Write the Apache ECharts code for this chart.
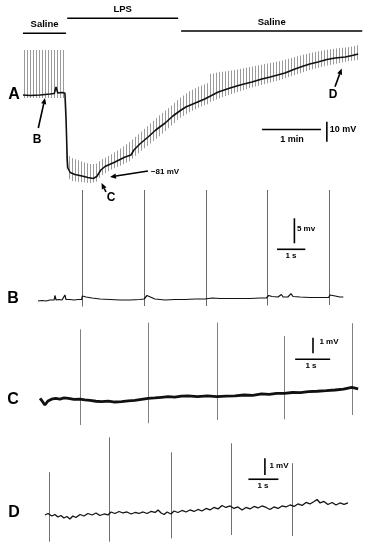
<!DOCTYPE html>
<html>
<head>
<meta charset="utf-8">
<title>Membrane potential recordings</title>
<script src="https://cdn.jsdelivr.net/npm/echarts@6/dist/echarts.min.js"></script>
<style>
  html, body { margin: 0; padding: 0; background: #fff; }
  #chart { width: 370px; height: 550px; }
</style>
</head>
<body>
<div id="chart"></div>
<script>
// ---------- A: slow recording (time in min, membrane potential in mV)
const aTime = [0, 0.12, 0.29, 0.46, 0.53, 0.56, 0.59, 0.66, 0.71, 0.73, 0.75, 0.76, 0.8, 0.88, 1.0, 1.1, 1.19, 1.25, 1.32, 1.39, 1.56, 1.73, 1.83, 1.88, 1.98, 2.12, 2.25, 2.41, 2.54, 2.68, 2.76, 2.92, 3.08, 3.31, 3.51, 3.68, 3.88, 4.05, 4.19, 4.44, 4.61, 4.73, 4.86, 5.0, 5.15, 5.29, 5.46, 5.58, 5.68];
const aVm = [-39.5, -39.75, -39.5, -39, -38.75, -35.5, -38.5, -38.25, -38.5, -52, -72, -76, -78.25, -79.25, -80, -80.75, -81.25, -80.25, -77, -75.25, -73, -70.5, -69.5, -67, -64, -60.5, -57, -53.5, -50, -47, -45.5, -43.5, -41.5, -38, -36, -34.5, -33, -31.5, -30.5, -28.5, -26.5, -25.25, -24, -23, -21.75, -21, -20.5, -19.75, -19];
// spike envelope (grey hatching)
const aEnvTime = [0, 0.72, 0.74, 0.76, 0.83, 0.97, 1.14, 1.24, 1.32, 1.48, 1.64, 1.81, 1.98, 2.15, 2.32, 2.49, 2.66, 2.83, 3.0, 3.14, 3.17, 3.34, 3.59, 3.85, 4.1, 4.36, 4.61, 4.86, 5.12, 5.37, 5.54, 5.68];
const aEnvTop = [-17, -17, -62, -69.5, -71, -72.5, -74, -74, -72, -69.5, -66.5, -63, -58.5, -54, -49.5, -45.5, -41, -37.5, -35, -33.5, -29, -28, -27, -25.5, -24, -22.5, -20.5, -18.5, -17, -16, -15.5, -14.5];
const aEnvBottom = [-41, -41, -76, -81, -82.5, -83, -83.5, -83, -80, -77, -75, -72.5, -68, -64, -60, -55.5, -51, -48, -45.5, -44, -43, -41, -38.5, -36, -34, -32, -29.5, -27, -25, -23.5, -22.5, -22];
// perfusion periods (min)
const periodNames = ['Saline', 'LPS', 'Saline'];
const periodStart = [0, 0.75, 2.68];
const periodEnd = [0.73, 2.63, 5.75];

// ---------- B (time in s, mV relative to baseline)
const bTime = [0, 0.14, 0.28, 0.42, 0.57, 0.6, 0.64, 0.74, 0.85, 0.95, 0.99, 1.13, 1.27, 1.41, 1.54, 1.57, 1.7, 1.91, 2.19, 2.54, 2.9, 3.25, 3.6, 3.75, 3.8, 3.85, 3.92, 4.13, 4.49, 4.84, 5.19, 5.55, 5.9, 5.97, 6.15, 6.43, 6.78, 7.14, 7.49, 7.85, 8.07, 8.15, 8.27, 8.48, 8.6, 8.66, 8.83, 8.94, 9.01, 9.26, 9.61, 9.97, 10.27, 10.32, 10.5, 10.67, 10.79];
const bVm = [-0.4, -0.3, -0.4, -0.2, -0.2, 0.7, -0.2, -0.1, -0.2, 0.8, -0.1, -0.1, -0.2, -0.1, -0.1, 0.6, 0.4, 0.2, 0, -0.1, -0.2, -0.2, -0.1, 0, 0.4, 0.7, 0.3, 0, -0.2, -0.1, -0.1, 0, 0, 0.4, 0.2, 0.1, 0.1, 0.1, 0.1, 0.2, 0.2, 0.7, 0.5, 0.4, 0.9, 0.4, 0.4, 1.06, 0.5, 0.4, 0.3, 0.3, 0.3, 0.8, 0.6, 0.4, 0.4];
const bSpikeTime = [1.54, 3.76, 5.93, 8.1, 10.28];
const bSpikePeak = [21.8, 21.8, 21.8, 21.8, 21.8];
const bSpikeTrough = [-1.5, -1.4, -1.4, -1.3, -1.2];

// ---------- C
const cTime = [0, 0.06, 0.14, 0.23, 0.33, 0.45, 0.57, 0.69, 0.81, 0.97, 1.14, 1.28, 1.43, 1.6, 1.76, 1.95, 2.14, 2.33, 2.52, 2.71, 2.9, 3.09, 3.28, 3.47, 3.66, 3.85, 4.04, 4.23, 4.5, 4.78, 5.05, 5.31, 5.57, 5.83, 6.08, 6.33, 6.55, 6.76, 6.98, 7.21, 7.44, 7.67, 7.92, 8.18, 8.43, 8.67, 8.91, 9.09];
const cVm = [0.11, -0.06, -0.32, -0.06, 0.05, 0.1, 0.06, 0.13, 0.11, 0.04, 0.06, 0.01, -0.03, -0.08, -0.11, -0.07, -0.13, -0.11, -0.05, -0.03, 0.04, 0.11, 0.13, 0.17, 0.21, 0.18, 0.25, 0.26, 0.22, 0.27, 0.21, 0.25, 0.26, 0.32, 0.3, 0.39, 0.36, 0.42, 0.43, 0.48, 0.47, 0.53, 0.56, 0.6, 0.64, 0.69, 0.81, 0.72];
const cSpikeTime = [1.14, 3.09, 5.05, 6.98, 8.91];
const cSpikePeak = [4.53, 4.96, 4.96, 4.1, 4.92];
const cSpikeTrough = [-1.6, -1.49, -1.28, -1.24, -0.96];

// ---------- D
const dTime = [0, 0.1, 0.23, 0.33, 0.43, 0.53, 0.63, 0.73, 0.83, 0.93, 1.03, 1.17, 1.3, 1.43, 1.57, 1.7, 1.83, 1.97, 2.1, 2.2, 2.33, 2.47, 2.6, 2.73, 2.87, 3.0, 3.13, 3.27, 3.4, 3.53, 3.67, 3.77, 3.87, 3.97, 4.07, 4.2, 4.3, 4.43, 4.57, 4.7, 4.83, 4.97, 5.1, 5.23, 5.37, 5.5, 5.63, 5.77, 5.9, 6.03, 6.17, 6.3, 6.43, 6.57, 6.7, 6.83, 6.97, 7.1, 7.23, 7.37, 7.5, 7.63, 7.77, 7.9, 8.03, 8.17, 8.3, 8.43, 8.57, 8.7, 8.83, 8.97, 9.07, 9.17, 9.3, 9.43, 9.57, 9.7, 9.83, 9.97, 10.1];
const dVm = [0, 0.09, -0.06, 0.03, -0.12, -0.03, -0.18, -0.09, -0.24, -0.06, -0.15, 0.03, -0.06, 0.09, 0, 0.12, -0.03, 0.06, 0, 0.18, 0.09, 0.21, 0.12, 0.18, 0.06, 0.15, 0.09, 0.18, 0.09, 0.21, 0.15, 0.3, 0.12, 0.03, 0.18, 0.06, 0.24, 0.15, 0.27, 0.18, 0.3, 0.21, 0.33, 0.24, 0.39, 0.3, 0.45, 0.36, 0.57, 0.45, 0.54, 0.39, 0.48, 0.3, 0.45, 0.36, 0.51, 0.42, 0.54, 0.45, 0.33, 0.48, 0.39, 0.54, 0.48, 0.6, 0.51, 0.66, 0.57, 0.75, 0.66, 0.81, 0.93, 0.72, 0.81, 0.63, 0.75, 0.6, 0.72, 0.63, 0.72];
const dSpikeTime = [0.14, 2.14, 4.19, 6.2, 8.24];
const dSpikePeak = [2.56, 4.65, 3.75, 4.29, 3.1];
const dSpikeTrough = [-1.6, -1.6, -1.4, -1.2, -1.26];

// ---------- layout
const FONT = '"Liberation Sans", Arial, sans-serif';
const zip = (...cols) => cols[0].map((_, i) => cols.map(c => c[i]));

const grids = [
  { left: 23, top: 38, width: 342.2, height: 152 },
  { left: 38, top: 186.5, width: 311.3, height: 125 },
  { left: 40, top: 317.3, width: 322, height: 113.9 },
  { left: 45, top: 429.8, width: 309, height: 118.6 }
];
const xRange = [[0, 5.8], [0, 11], [0, 9.2], [0, 10.3]];
const yRange = [[-87, -11], [-2.5, 22.5], [-2, 5.3], [-2, 5.1]];

// scale bars: [x0, y0, x1, y1] in data units
const scaleBars = [
  [[4.05, -56.75, 5.05, -56.75], [5.15, -62.85, 5.15, -52.85]],
  [[8.445, 9.94, 9.445, 9.94], [9.06, 11.14, 9.06, 16.14]],
  [[7.29, 2.61, 8.29, 2.61], [7.8, 2.99, 7.8, 3.99]],
  [[6.78, 2.14, 7.78, 2.14], [7.33, 2.4, 7.33, 3.4]]
];
const periodRowY = [33.3, 18.3, 31];

const hatch = document.createElement('canvas');
hatch.width = 3; hatch.height = 4;
const hctx = hatch.getContext('2d');
hctx.fillStyle = '#9a9a9a';
hctx.fillRect(0, 0, 1, 4);

const snap = v => Math.round(v) + 0.5;

function spikeSeries(g, t, peak, trough, color) {
  return {
    type: 'custom', xAxisIndex: g, yAxisIndex: g, silent: true,
    data: zip(t, peak, trough),
    renderItem(params, api) {
      const p1 = api.coord([api.value(0), api.value(1)]);
      const p2 = api.coord([api.value(0), api.value(2)]);
      return { type: 'line', shape: { x1: snap(p1[0]), y1: p1[1], x2: snap(p1[0]), y2: p2[1] },
        style: { stroke: color, lineWidth: 1 } };
    }
  };
}
function traceSeries(g, t, v, width) {
  return {
    type: 'line', xAxisIndex: g, yAxisIndex: g, silent: true, showSymbol: false,
    data: zip(t, v), lineStyle: { color: '#111', width: width }
  };
}
function scaleSeries(g) {
  return {
    type: 'custom', xAxisIndex: g, yAxisIndex: g, silent: true,
    data: scaleBars[g],
    renderItem(params, api) {
      const p1 = api.coord([api.value(0), api.value(1)]);
      const p2 = api.coord([api.value(2), api.value(3)]);
      return { type: 'line', shape: { x1: p1[0], y1: p1[1], x2: p2[0], y2: p2[1] },
        style: { stroke: '#000', lineWidth: 1.6 } };
    }
  };
}

const envelope = {
  type: 'custom', xAxisIndex: 0, yAxisIndex: 0, silent: true,
  data: zip(aEnvTime, aEnvTop, aEnvBottom),
  renderItem(params, api) {
    if (params.dataIndex !== 0) return null;
    const pts = [];
    aEnvTime.forEach((t, i) => pts.push(api.coord([t, aEnvTop[i]])));
    for (let i = aEnvTime.length - 1; i >= 0; i--) pts.push(api.coord([aEnvTime[i], aEnvBottom[i]]));
    return { type: 'polygon', shape: { points: pts }, style: { fill: { image: hatch, repeat: 'repeat' } } };
  }
};

const periods = {
  type: 'custom', xAxisIndex: 0, yAxisIndex: 0, silent: true,
  data: periodStart.map((s, i) => [s, periodEnd[i], i]),
  renderItem(params, api) {
    const i = api.value(2);
    const x0 = api.coord([api.value(0), -50])[0];
    const x1 = api.coord([api.value(1), -50])[0];
    const y = periodRowY[i];
    return {
      type: 'group',
      children: [
        { type: 'line', shape: { x1: x0, y1: y, x2: x1, y2: y }, style: { stroke: '#000', lineWidth: 1.6 } },
        { type: 'text', style: { text: periodNames[i], x: (x0 + x1) / 2, y: y - 4, align: 'center',
          verticalAlign: 'bottom', font: 'bold 9.5px ' + FONT, fill: '#000' } }
      ]
    };
  }
};

function label(text, x, y, size) {
  return { type: 'text', silent: true, style: { text, x, y, align: 'center', verticalAlign: 'middle',
    font: 'bold ' + size + 'px ' + FONT, fill: '#000' } };
}
function arrow(x1, y1, x2, y2) {
  const a = Math.atan2(y2 - y1, x2 - x1);
  const len = 6, half = 2.6;
  const bx = x2 - len * Math.cos(a), by = y2 - len * Math.sin(a);
  const nx = -Math.sin(a) * half, ny = Math.cos(a) * half;
  return [
    { type: 'line', silent: true, shape: { x1, y1, x2: bx, y2: by }, style: { stroke: '#000', lineWidth: 1.6 } },
    { type: 'polygon', silent: true, shape: { points: [[x2, y2], [bx + nx, by + ny], [bx - nx, by - ny]] }, style: { fill: '#000' } }
  ];
}

const chart = echarts.init(document.getElementById('chart'));
chart.setOption({
  animation: false,
  backgroundColor: '#fff',
  grid: grids,
  xAxis: grids.map((_, i) => ({ type: 'value', gridIndex: i, min: xRange[i][0], max: xRange[i][1], show: false })),
  yAxis: grids.map((_, i) => ({ type: 'value', gridIndex: i, min: yRange[i][0], max: yRange[i][1], show: false })),
  series: [
    envelope,
    traceSeries(0, aTime, aVm, 1.6),
    periods,
    scaleSeries(0),
    spikeSeries(1, bSpikeTime, bSpikePeak, bSpikeTrough, '#6a6a6a'),
    traceSeries(1, bTime, bVm, 1.2),
    scaleSeries(1),
    spikeSeries(2, cSpikeTime, cSpikePeak, cSpikeTrough, '#808080'),
    traceSeries(2, cTime, cVm, 2.8),
    scaleSeries(2),
    spikeSeries(3, dSpikeTime, dSpikePeak, dSpikeTrough, '#707070'),
    traceSeries(3, dTime, dVm, 1.3),
    scaleSeries(3)
  ],
  graphic: [
    label('A', 14, 95, 16),
    label('B', 13, 299, 16),
    label('C', 13, 400, 16),
    label('D', 14, 513, 16),
    label('B', 37, 140, 12),
    label('D', 333, 95, 12),
    label('C', 111, 198, 12),
    label('\u221281 mV', 165, 172, 8),
    label('1 min', 292, 140, 9),
    label('10 mV', 343, 130, 9),
    label('5 mv', 306, 229, 8),
    label('1 s', 291, 256, 8),
    label('1 mV', 329, 342, 8),
    label('1 s', 311, 366, 8),
    label('1 mV', 279, 466, 8),
    label('1 s', 263, 486, 8),
    ...arrow(38.3, 128, 45, 98),
    ...arrow(335, 86.7, 341.7, 68.5),
    ...arrow(148, 171, 110, 177),
    ...arrow(106, 192, 101.5, 183)
  ]
});
</script>
</body>
</html>
